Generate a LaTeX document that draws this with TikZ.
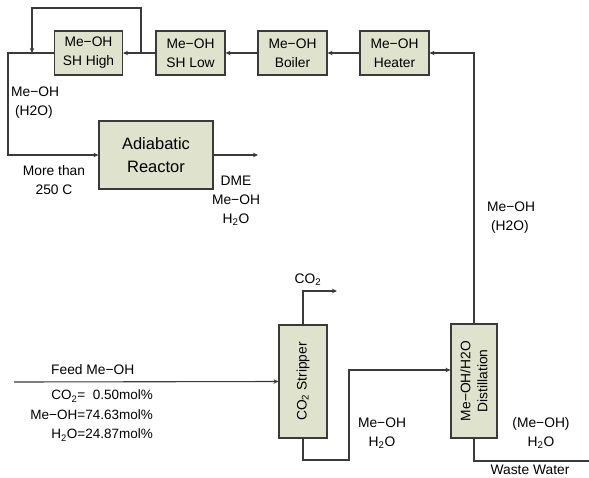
\documentclass[tikz,border=0pt]{standalone}
\usepackage{fontspec}
\setmainfont{Liberation Sans}
\usetikzlibrary{arrows.meta}
\definecolor{boxfill}{HTML}{DFE3CD}
\definecolor{ln}{HTML}{3A3A3A}
\newcommand{\fs}{\fontsize{13.8}{19}\selectfont}
\begin{document}
\begin{tikzpicture}[x=1pt,y=-1pt,
  unit/.style={draw=ln, fill=boxfill, line width=1.1pt, inner sep=0pt, align=center, font=\fs},
  flow/.style={draw=ln, line width=1.1pt, -{Stealth[length=5pt,width=4.5pt]}},
  pipe/.style={draw=ln, line width=1.1pt},
  lbl/.style={inner sep=0pt, align=center, font=\fs}]
\useasboundingbox (0,0) rectangle (589,477);
\fill[white] (0,0) rectangle (589,477);

% top row units
\node[unit, minimum width=68pt, minimum height=44pt] (shh) at (88.5,53) {Me−OH\\SH High};
\node[unit, minimum width=69pt, minimum height=44pt] (shl) at (190.5,53) {Me−OH\\SH Low};
\node[unit, minimum width=69pt, minimum height=44pt] (boil) at (292.5,53) {Me−OH\\Boiler};
\node[unit, minimum width=69pt, minimum height=44pt] (heat) at (394.5,53) {Me−OH\\Heater};
\node[unit, minimum width=114pt, minimum height=68pt, font=\fontsize{16.5}{23}\selectfont] (reac) at (156,155) {Adiabatic\\Reactor};

% columns
\node[unit, minimum width=48pt, minimum height=113pt,
  label={[rotate=90, lbl]center:CO\textsubscript{2} Stripper}] (strip) at (303,381.5) {};
\node[unit, minimum width=46pt, minimum height=114pt,
  label={[rotate=90, lbl, font=\fontsize{13.8}{17}\selectfont]center:Me−OH/H2O\\Distillation}] (dist) at (474,381) {};

% coordinates
\coordinate (j1) at (141,53);
\coordinate (j2) at (32,53);
\coordinate (c8) at (8,53);
\coordinate (rout) at (258,155);
\coordinate (feed) at (14,382);
\coordinate (co2out) at (337,291);
\coordinate (b1) at (349,460);
\coordinate (ww) at (589,461);

% connectors
\draw[flow] (dist.north) |- (heat.east);
\draw[flow] (heat.west) -- (boil.east);
\draw[flow] (boil.west) -- (shl.east);
\draw[flow] (shl.west) -- (shh.east);
\draw[flow] (j1) -- ++(0,-45) -| (j2);
\draw[flow] (shh.west) -- (c8) |- (reac.west);
\draw[flow] (reac.east) -- (rout);
\draw[flow] (feed) -- (strip.west);
\draw[flow] (strip.north) |- (co2out);
\draw[flow] (strip.south) |- (b1) |- ([yshift=11pt]dist.west);
\draw[pipe] (dist.south) |- (ww);

% labels
\node[lbl, anchor=west, align=left] (l1) at (11,103) {Me−OH\\\ (H2O)};
\node[lbl] (l2) at (54,180.5) {More than\\250 C};
\node[lbl] (l3) at (236,201) {DME\\Me−OH\\H\textsubscript{2}O};
\node[lbl] (l4) at (308,280) {CO\textsubscript{2}};
\node[lbl, anchor=west] (l5) at (51,370) {Feed Me−OH};
\node[lbl, anchor=north east, align=right, font=\fontsize{13.5}{19.5}\selectfont] (l6) at (153,390) {CO\textsubscript{2}=\ \ 0.50mol\%\\Me−OH=74.63mol\%\\H\textsubscript{2}O=24.87mol\%};
\node[lbl] (l7) at (382,433) {Me−OH\\H\textsubscript{2}O};
\node[lbl] (l8) at (541,433) {(Me−OH)\\H\textsubscript{2}O};
\node[lbl] (l9) at (530,470) {Waste Water};
\node[lbl, anchor=west, align=left] (l10) at (487,217.5) {Me−OH\\\ (H2O)};
\end{tikzpicture}
\end{document}
